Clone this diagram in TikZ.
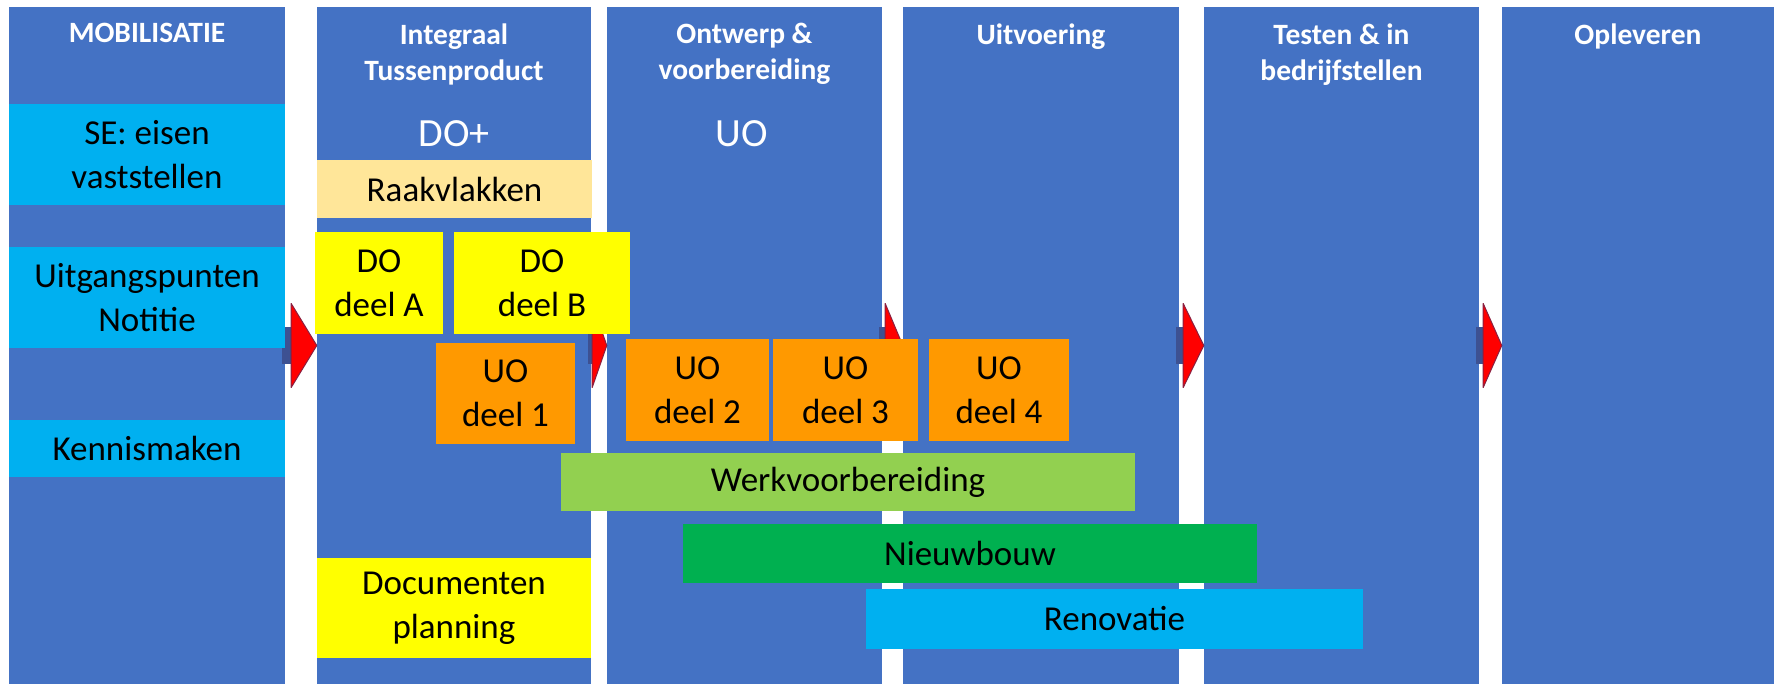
\documentclass[tikz,border=0pt]{standalone}
\usepackage{fontspec}
\setmainfont{Carlito}
\usetikzlibrary{calc}
\definecolor{phaseblue}{HTML}{4472C4}
\definecolor{stemblue}{HTML}{3D5192}
\definecolor{arrowred}{HTML}{FF0000}
\definecolor{arrowedge}{HTML}{8A2040}
\definecolor{skyblue}{HTML}{00B0F0}
\definecolor{sand}{HTML}{FFE699}
\definecolor{lemon}{HTML}{FFFF00}
\definecolor{amber}{HTML}{FF9900}
\definecolor{lightgreen}{HTML}{92D050}
\definecolor{darkgreen}{HTML}{00B050}
\begin{document}
\begin{tikzpicture}[x=1pt, y=-1pt,
  phase/.style={rectangle, fill=phaseblue, inner sep=0pt, minimum width=275pt, minimum height=677pt},
  head/.style={text=white, anchor=north, align=center, font=\fontsize{29.5}{36}\selectfont\bfseries},
  task/.style={rectangle, inner sep=0pt, align=center, text=black, font=\fontsize{35}{44}\selectfont},
  stem/.style={fill=stemblue},
  tip/.style={fill=arrowred, draw=arrowedge, line width=1pt, line join=round}]
\useasboundingbox (0, 0) rectangle (1774, 684);
% phases
\node (c1)[phase, minimum width=276pt] at (147, 345.5) {};
\node (c2)[phase, minimum width=274pt] at (454, 345.5) {};
\node (c3)[phase] at (744.5, 345.5) {};
\node (c4)[phase, minimum width=276pt] at (1041, 345.5) {};
\node (c5)[phase] at (1341.5, 345.5) {};
\node (c6)[phase, minimum width=272pt] at (1638, 345.5) {};
\node (h1)[head] at (147, 20) {MOBILISATIE};
\node (h2)[head] at (454, 20) {Integraal\\Tussenproduct};
\node (h3)[head] at (744.5, 20) {Ontwerp \&\\voorbereiding};
\node (h4)[head] at (1041, 20) {Uitvoering};
\node (h5)[head] at (1341.5, 20) {Testen \& in\\bedrijfstellen};
\node (h6)[head] at (1638, 20) {Opleveren};
% arrows between phases
\fill[stem] ($(c1.east)+(-3,-18)$) rectangle ($(c1.east)+(7,18)$);
\draw[tip] ($(c1.east)+(6,-42)$) -- (c2.west) -- ($(c1.east)+(6,42)$) -- cycle;
\fill[stem] ($(c2.east)+(-3,-18)$) rectangle ($(c2.east)+(2,18)$);
\draw[tip] ($(c2.east)+(1,-42)$) -- (c3.west) -- ($(c2.east)+(1,42)$) -- cycle;
\fill[stem] ($(c3.east)+(-3,-18)$) rectangle ($(c3.east)+(4,18)$);
\draw[tip] ($(c3.east)+(3,-42)$) -- (c4.west) -- ($(c3.east)+(3,42)$) -- cycle;
\fill[stem] ($(c4.east)+(-3,-18)$) rectangle ($(c4.east)+(5,18)$);
\draw[tip] ($(c4.east)+(4,-42)$) -- (c5.west) -- ($(c4.east)+(4,42)$) -- cycle;
\fill[stem] ($(c5.east)+(-3,-18)$) rectangle ($(c5.east)+(5,18)$);
\draw[tip] ($(c5.east)+(4,-42)$) -- (c6.west) -- ($(c5.east)+(4,42)$) -- cycle;
% mobilisatie
\node (se)[task, fill=skyblue, minimum width=276pt, minimum height=101pt] at (147, 154.5) {SE: eisen\\vaststellen};
\node (uitg)[task, fill=skyblue, minimum width=276pt, minimum height=101pt] at (147, 297.5) {Uitgangspunten\\Notitie};
\node (kennis)[task, fill=skyblue, minimum width=276pt, minimum height=57pt] at (147, 448.5) {Kennismaken};
% DO+ and UO
\node (doplus)[text=white, font=\fontsize{40}{46}\selectfont] at (454, 134) {DO+};
\node (uo)[text=white, font=\fontsize{40}{46}\selectfont] at (742, 134) {UO};
\node (raak)[task, fill=sand, minimum width=275pt, minimum height=58pt] at (454.5, 189) {Raakvlakken};
\node (doa)[task, fill=lemon, minimum width=128pt, minimum height=102pt] at (379, 283) {DO\\deel A};
\node (dob)[task, fill=lemon, minimum width=176pt, minimum height=102pt] at (542, 283) {DO\\deel B};
\node (uo1)[task, fill=amber, minimum width=139pt, minimum height=101pt] at (505.5, 393.5) {UO\\deel 1};
\node (uo2)[task, fill=amber, minimum width=143pt, minimum height=102pt] at (697.5, 390) {UO\\deel 2};
\node (uo3)[task, fill=amber, minimum width=145pt, minimum height=102pt] at (845.5, 390) {UO\\deel 3};
\node (uo4)[task, fill=amber, minimum width=140pt, minimum height=102pt] at (999, 390) {UO\\deel 4};
% bars
\node (werk)[task, fill=lightgreen, minimum width=574pt, minimum height=58pt] at (848, 482) {Werkvoorbereiding};
\node (nieuw)[task, fill=darkgreen, minimum width=574pt, minimum height=59pt] at (970, 553.5) {Nieuwbouw};
\node (renov)[task, fill=skyblue, minimum width=497pt, minimum height=60pt] at (1114.5, 619) {Renovatie};
\node (docplan)[task, fill=lemon, minimum width=274pt, minimum height=100pt] at (454, 608) {Documenten\\planning};
\end{tikzpicture}
\end{document}
